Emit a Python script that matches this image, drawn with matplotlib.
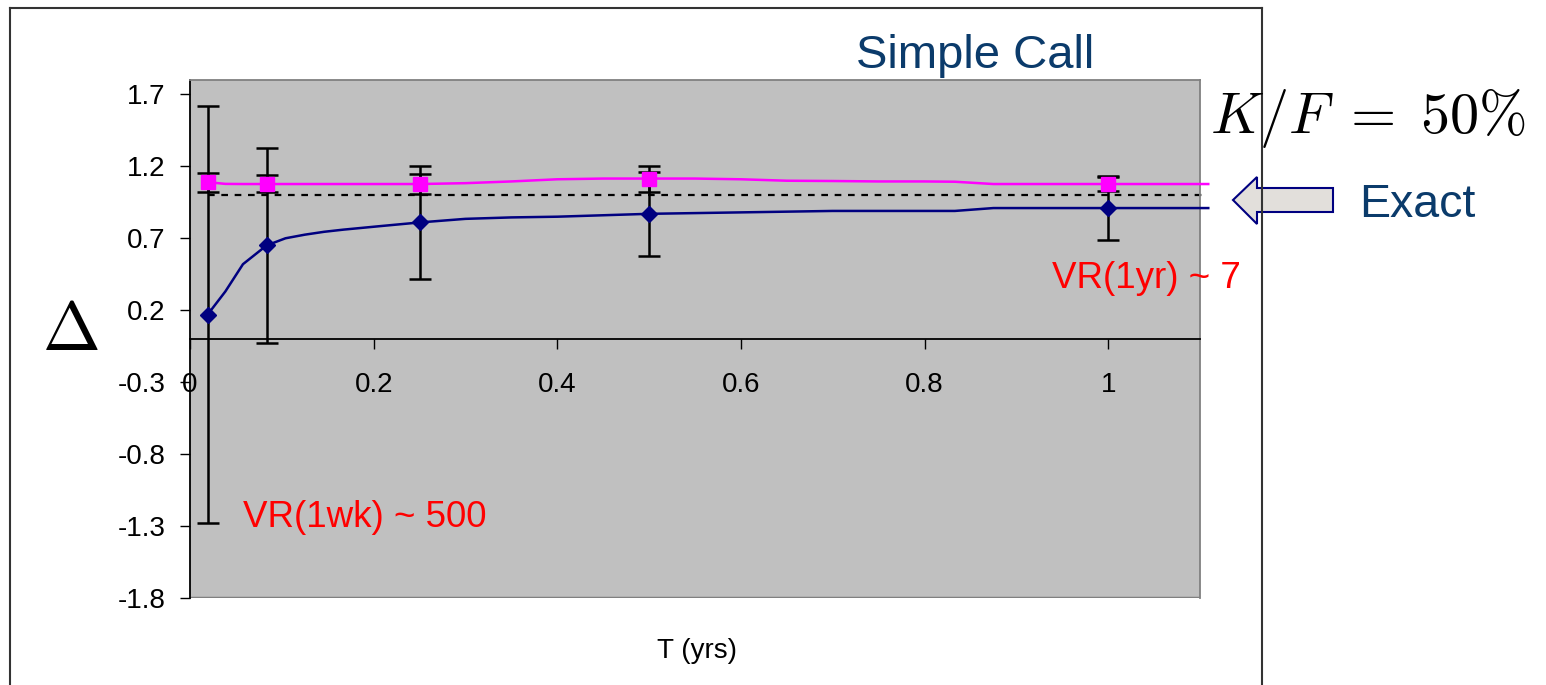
import matplotlib
matplotlib.use('Agg')
import matplotlib.pyplot as plt
from matplotlib.lines import Line2D
from matplotlib.patches import Polygon

plt.rcParams['font.family'] = ['Liberation Sans', 'DejaVu Sans']
plt.rcParams['mathtext.fontset'] = 'cm'

# maturities of the marked runs (1 week, 1 month, 3m, 6m, 1y)
t_marks = [1 / 52, 1 / 12, 0.25, 0.5, 1.0]
delta_plain = [0.17, 0.65, 0.81, 0.87, 0.91]
err_plain = [1.45, 0.68, 0.39, 0.29, 0.22]
delta_reduced = [1.09, 1.08, 1.077, 1.115, 1.078]
err_reduced = [0.065, 0.06, 0.07, 0.09, 0.05]

# continuous curves
t_curve = [1 / 52, 2 / 52, 3 / 52, 1 / 12, 0.104, 0.125, 0.146, 0.167, 0.208, 0.25,
           0.30, 0.35, 0.40, 0.45, 0.50, 0.55, 0.60, 0.65, 0.70, 0.75, 0.80, 0.833,
           0.875, 0.92, 0.96, 1.0, 1.05, 1.109]
curve_plain = [0.17, 0.33, 0.52, 0.65, 0.70, 0.725, 0.745, 0.76, 0.785, 0.81,
               0.835, 0.845, 0.85, 0.86, 0.87, 0.875, 0.88, 0.885, 0.89, 0.89, 0.89, 0.89,
               0.91, 0.91, 0.91, 0.91, 0.91, 0.91]
curve_reduced = [1.09, 1.078, 1.077, 1.077, 1.077, 1.077, 1.077, 1.077, 1.077, 1.077,
                 1.083, 1.095, 1.11, 1.115, 1.115, 1.115, 1.11, 1.10, 1.098, 1.095, 1.095, 1.093,
                 1.077, 1.077, 1.077, 1.077, 1.077, 1.077]
exact_delta = 1.0

yticks = [-1.8, -1.3, -0.8, -0.3, 0.2, 0.7, 1.2, 1.7]
xticks = [0, 0.2, 0.4, 0.6, 0.8, 1.0]
xticklabels = ['0', '0.2', '0.4', '0.6', '0.8', '1']

W, H = 1546, 685
fig = plt.figure(figsize=(W / 100, H / 100), dpi=100)


def px(x, y):
    return x / W, 1 - y / H


ax = fig.add_axes([190 / W, 87 / H, 1010 / W, 518 / H])
ax.set_facecolor('#c0c0c0')
ax.set_xlim(0, 1.1)
ax.set_ylim(-1.8, 1.8)

ax.plot(t_curve, [exact_delta] * len(t_curve), color='black', lw=1.6,
        dashes=(3, 3), clip_on=False, zorder=2)
ax.plot(t_curve, curve_reduced, color='#ff00ff', lw=1.8, clip_on=False, zorder=3)
ax.plot(t_curve, curve_plain, color='#000080', lw=1.8, clip_on=False, zorder=3)

ax.errorbar(t_marks, delta_plain, yerr=err_plain, fmt='none', ecolor='black',
            elinewidth=1.8, capsize=8, capthick=1.8, zorder=4)
ax.errorbar(t_marks, delta_reduced, yerr=err_reduced, fmt='none', ecolor='black',
            elinewidth=1.8, capsize=8, capthick=1.8, zorder=4)
ax.plot(t_marks, delta_plain, 'D', color='#000080', ms=8, zorder=5)
ax.plot(t_marks, delta_reduced, 's', color='#ff00ff', ms=10, zorder=5)

# spines: x axis sits at zero, frame in grey
ax.spines['bottom'].set_position(('data', 0))
ax.spines['bottom'].set_color('black')
ax.spines['left'].set_color('black')
ax.spines['top'].set_color('#808080')
ax.spines['right'].set_color('#808080')
for s in ax.spines.values():
    s.set_linewidth(1.3)
ax.axhline(-1.8, color='#808080', lw=2.5, zorder=1)

ax.set_yticks(yticks)
ax.set_yticklabels([f'{v:.1f}' for v in yticks])
ax.set_xticks(xticks)
ax.set_xticklabels(xticklabels)
ax.tick_params(axis='both', direction='out', length=7.5, width=1, labelsize=20)
ax.tick_params(axis='x', pad=16)
ax.tick_params(axis='y', pad=10)

# labels and annotations
fig.text(*px(697, 658), 'T (yrs)', fontsize=20, ha='center', va='baseline')
fig.text(*px(70, 350), r'$\mathbf{\Delta}$', fontsize=50, ha='center', va='baseline')
fig.text(*px(975, 68), 'Simple Call', fontsize=34, color='#0b3b6b',
         ha='center', va='baseline')
fig.text(*px(1210, 133), r'$K/F \;=\; 50\%$', fontsize=42, ha='left', va='baseline')
fig.text(*px(1359, 217), 'Exact', fontsize=33.5, color='#0b3b6b', ha='left', va='baseline')
fig.text(*px(1052, 288), 'VR(1yr) ~ 7', fontsize=26.5, color='red', ha='left', va='baseline')
fig.text(*px(243, 527), 'VR(1wk) ~ 500', fontsize=26.5, color='red', ha='left', va='baseline')

arrow = [(1233, 200), (1257, 177), (1257, 188), (1333, 188), (1333, 212),
         (1257, 212), (1257, 224)]
fig.add_artist(Polygon([px(x, y) for x, y in arrow], closed=True,
                       transform=fig.transFigure, facecolor='#e2dfdb',
                       edgecolor='#000080', lw=1.5))

# outer frame
for xs, ys in [([10, 10], [8, 700]), ([10, 1262], [8, 8]), ([1262, 1262], [8, 700])]:
    fig.add_artist(Line2D([x / W for x in xs], [1 - y / H for y in ys],
                          transform=fig.transFigure, color='#333333', lw=1.5))

fig.savefig('out.png', dpi=100)
